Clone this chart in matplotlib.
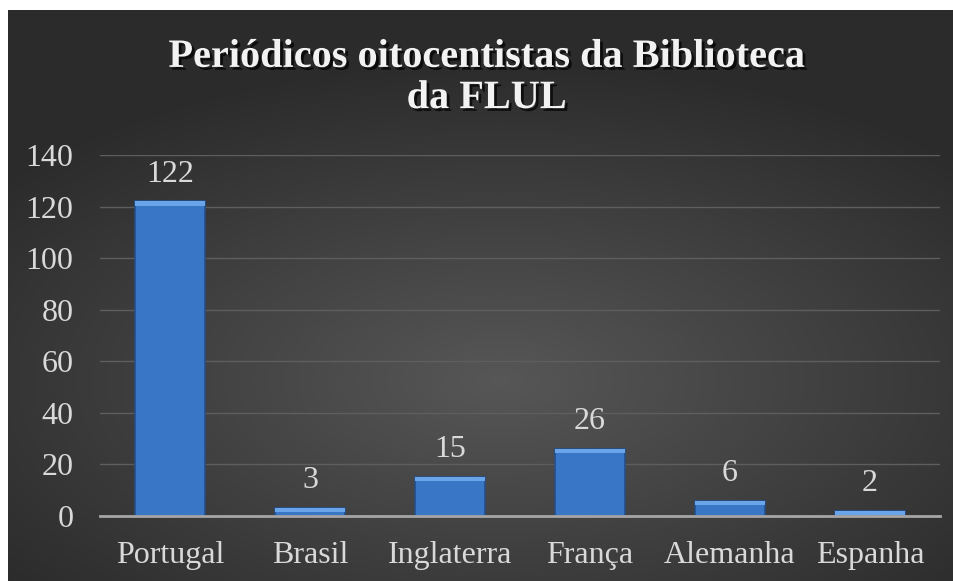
import numpy as np
import matplotlib.pyplot as plt
import matplotlib.patheffects as pe

# Données
pays = ["Portugal", "Brasil", "Inglaterra", "França", "Alemanha", "Espanha"]
periodicos = [122, 3, 15, 26, 6, 2]
graduacoes = [0, 20, 40, 60, 80, 100, 120, 140]

plt.rcParams["font.family"] = ["Liberation Serif", "DejaVu Serif"]

fig = plt.figure(figsize=(9.54, 5.81), dpi=100)
fig.patch.set_facecolor("white")

# Fond sombre en dégradé radial
bg = fig.add_axes([8 / 954, 0, 946 / 954, 571 / 581])
bg.set_axis_off()
yy, xx = np.mgrid[0:1:300j, 0:1:500j]
r = np.sqrt(((xx - 0.52) / 0.9) ** 2 + ((yy - 0.35) / 0.75) ** 2)
r = np.clip(r / 0.75, 0, 1)
niveau = 0.34 - 0.17 * r
img = np.dstack([niveau, niveau, niveau])
bg.imshow(img, aspect="auto", extent=[0, 1, 0, 1], origin="lower")

# Zone du graphique
ax = fig.add_axes([100 / 954, 65 / 581, 840 / 954, 361 / 581])
ax.set_facecolor("none")
x = np.arange(len(pays))
vals = np.array(periodicos)

ax.bar(x, vals, width=0.5, color="#3a76c6", edgecolor="#244f8a", linewidth=1.2, zorder=3)
# Biseau clair en haut de chaque barre
bev = np.minimum(vals, 1.6)
ax.bar(x, bev, width=0.5, bottom=vals - bev, color="#6aa5ea", linewidth=0, zorder=4)

for xi, v in zip(x, vals):
    ax.text(xi, v + 5, str(v), ha="center", va="bottom", color="#d9d9d9", fontsize=23, zorder=5)

ax.set_xlim(-0.5, len(pays) - 0.5)
ax.set_ylim(0, 140)
ax.set_yticks(graduacoes)
ax.set_yticklabels([str(g) for g in graduacoes], color="#d9d9d9", fontsize=23)
ax.set_xticks(x)
ax.set_xticklabels(pays, color="#d9d9d9", fontsize=23)
ax.tick_params(axis="both", length=0)
ax.tick_params(axis="y", pad=19)
ax.tick_params(axis="x", pad=18)
ax.grid(axis="y", color="#5e5e5e", linewidth=1, zorder=0)
for s in ["top", "right", "left"]:
    ax.spines[s].set_visible(False)
ax.spines["bottom"].set_color("#a6a6a6")
ax.spines["bottom"].set_linewidth(2)
ax.spines["bottom"].set_zorder(6)

# Titre
titre = "Periódicos oitocentistas da Biblioteca\nda FLUL"
fig.text(0.51, 1 - 78 / 581, titre, ha="center", va="center", color="#f2f2f2",
         fontsize=29, fontweight="bold", linespacing=1.15,
         path_effects=[pe.withSimplePatchShadow(offset=(2, -2), shadow_rgbFace="black", alpha=0.7)])

plt.savefig("out.png", dpi=100, facecolor=fig.get_facecolor())
